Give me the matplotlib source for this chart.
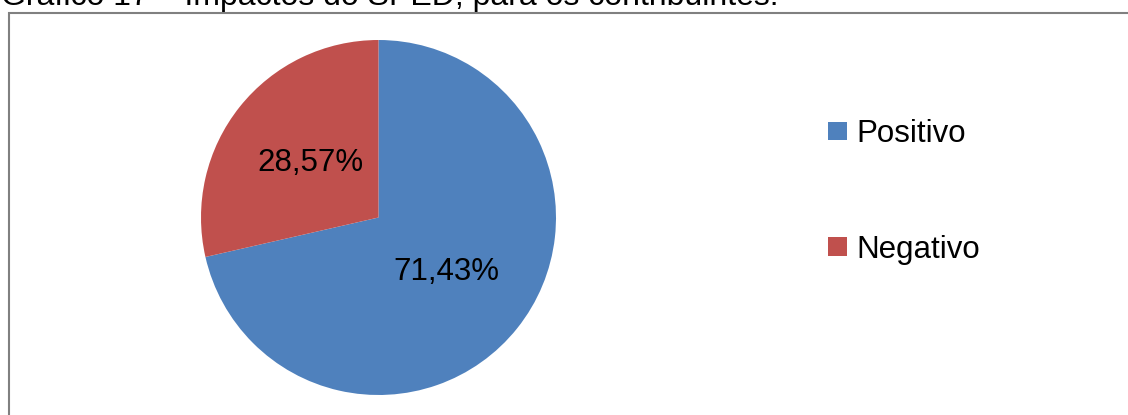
import matplotlib
matplotlib.use("Agg")
import matplotlib.pyplot as plt
from matplotlib.patches import Rectangle, Patch

categories = ["Positivo", "Negativo"]
values = [71.43, 28.57]
colors = ["#4F81BD", "#C0504D"]
title = "Gráfico 17 – Impactos do SPED, para os contribuintes."

plt.rcParams['font.family'] = ['Liberation Sans', 'DejaVu Sans']

W, H = 1128, 415
fig = plt.figure(figsize=(W / 100, H / 100), dpi=100)
fig.patch.set_facecolor("white")

# chart border (partially cropped)
fig.patches.append(Rectangle((8.5 / W, -0.1), 1.2, (H - 13) / H + 0.1,
                             transform=fig.transFigure, fill=False,
                             edgecolor="#808080", linewidth=1.5))

# cropped caption
fig.text(1 / W, (H - 5) / H, title, fontsize=23, va="baseline", ha="left",
         color="black")

cx, cy, r = 378.5, 217.5, 177.5
ax = fig.add_axes([(cx - r) / W, (H - cy - r) / H, 2 * r / W, 2 * r / H])


def fmt(p):
    return f"{p:.2f}%".replace(".", ",")


wedges, texts, autotexts = ax.pie(values, colors=colors, startangle=90,
                                  counterclock=False, autopct=fmt,
                                  pctdistance=0.49,
                                  textprops=dict(fontsize=22.5, color="black"))
ax.set_xlim(-1, 1)
ax.set_ylim(-1, 1)
ax.set_aspect("equal")

handles = [Patch(facecolor=c, edgecolor="none") for c in colors]
fig.legend(handles, categories, loc="upper left",
           bbox_to_anchor=(828 / W, 1 - 119 / H),
           frameon=False, fontsize=22.5, handlelength=0.6, handleheight=0.55,
           handletextpad=0.3, labelspacing=2.75, borderpad=0,
           borderaxespad=0)

fig.savefig("out.png", dpi=100, facecolor="white")
